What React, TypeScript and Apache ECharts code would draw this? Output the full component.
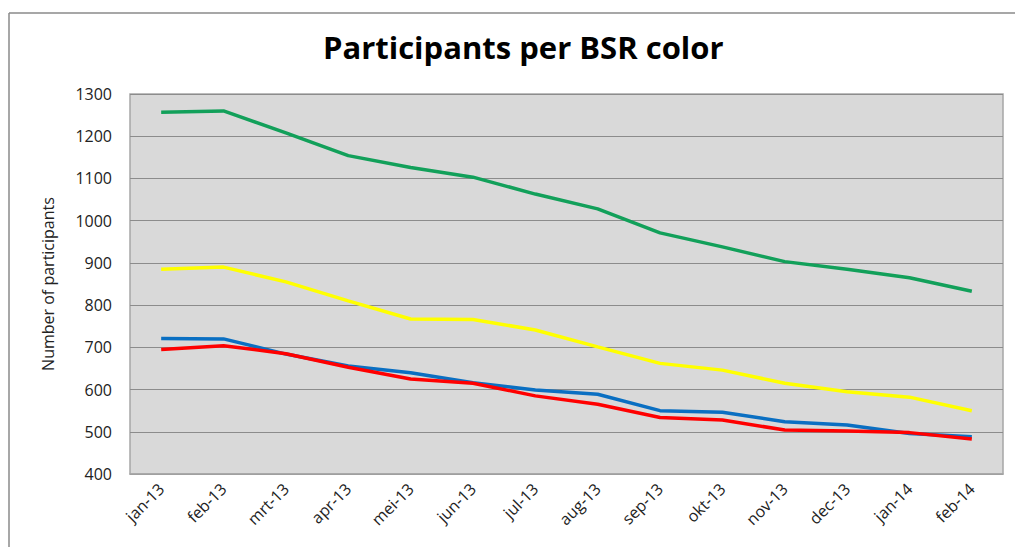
import React, { useEffect, useRef } from "react";
import * as echarts from "echarts";

const categories = ["jan-13", "feb-13", "mrt-13", "apr-13", "mei-13", "jun-13", "jul-13", "aug-13", "sep-13", "okt-13", "nov-13", "dec-13", "jan-14", "feb-14"];
const greenValues = [1257, 1260, 1208, 1154, 1126, 1103, 1063, 1028, 971, 938, 903, 885, 865, 833];
const yellowValues = [885, 890, 855, 810, 767, 766, 741, 701, 662, 646, 615, 595, 582, 550];
const blueValues = [721, 720, 684, 656, 640, 616, 599, 589, 550, 546, 524, 516, 496, 488];
const redValues = [695, 704, 685, 653, 625, 615, 585, 565, 534, 528, 504, 502, 498, 483];
const seriesNames = ["Green", "Yellow", "Blue", "Red"];
const seriesColors = ["#12a05a", "#ffff00", "#0a6fc2", "#ff0000"];

export default function App() {
  const ref = useRef<HTMLDivElement>(null);
  useEffect(() => {
    if (!ref.current) return;
    const chart = echarts.init(ref.current, null, { renderer: "svg" });
    const data = [greenValues, yellowValues, blueValues, redValues];
    chart.setOption({
      animation: false,
      backgroundColor: "#ffffff",
      title: {
        text: "Participants per BSR color",
        left: 318,
        top: 26,
        textStyle: { fontFamily: "Open Sans", fontWeight: "bold", fontSize: 31, color: "#000" },
      },
      graphic: [
        { type: "line", shape: { x1: 9, y1: 13, x2: 1015, y2: 13 }, style: { stroke: "#8a8a8a", lineWidth: 1.5 } },
        { type: "line", shape: { x1: 9, y1: 13, x2: 9, y2: 547 }, style: { stroke: "#8a8a8a", lineWidth: 1.5 } },
      ],
      grid: {
        left: 130,
        right: 12,
        top: 94,
        bottom: 73,
        show: true,
        backgroundColor: "#d9d9d9",
        borderColor: "#a6a6a6",
        borderWidth: 1.5,
      },
      xAxis: {
        type: "category",
        data: categories,
        boundaryGap: true,
        axisLine: { show: true, lineStyle: { color: "#a6a6a6", width: 1.5 } },
        axisTick: { show: false },
        axisLabel: { rotate: 45, fontFamily: "Open Sans", fontSize: 16, color: "#222", margin: 12 },
      },
      yAxis: {
        type: "value",
        min: 400,
        max: 1300,
        interval: 100,
        name: "Number of participants",
        nameLocation: "middle",
        nameGap: 74,
        nameTextStyle: { fontFamily: "Open Sans", fontSize: 16, color: "#222" },
        axisLine: { show: false },
        axisTick: { show: false },
        axisLabel: {
          fontFamily: "Open Sans",
          fontSize: 16,
          color: "#222",
          margin: 18,
          formatter: (v: number) => String(v),
        },
        splitLine: { show: true, lineStyle: { color: "#8c8c8c", width: 1 } },
      },
      series: data.map((d, i) => ({
        name: seriesNames[i],
        type: "line",
        data: d,
        symbol: "none",
        lineStyle: { color: seriesColors[i], width: 3.5 },
        itemStyle: { color: seriesColors[i] },
      })),
    });
    return () => chart.dispose();
  }, []);
  return <div ref={ref} style={{ position: "fixed", left: 0, top: 0, width: 1015, height: 547 }} />;
}
